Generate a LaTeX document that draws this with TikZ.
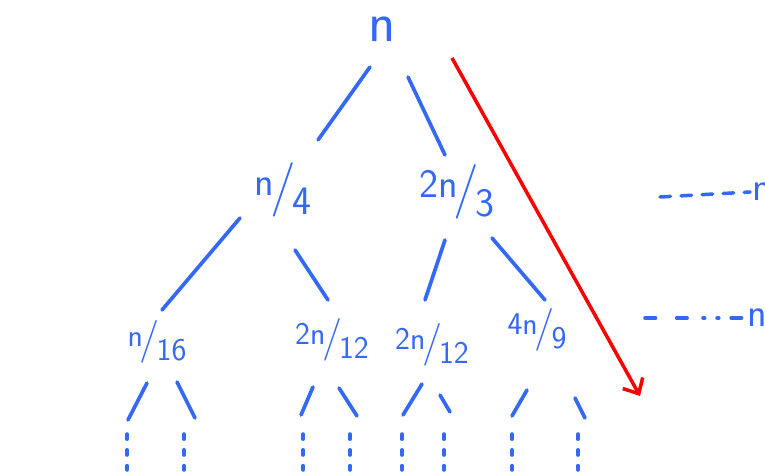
\documentclass[tikz,border=0pt]{standalone}
\usepackage{tikz}
\usetikzlibrary{arrows.meta, positioning}
\definecolor{inkblue}{RGB}{52,104,246}
\definecolor{inkred}{RGB}{250,0,0}
\tikzstyle{term} = [text=inkblue, font=\sffamily\fontsize{23}{25}\selectfont, inner sep=1pt]
\tikzstyle{leaf} = [term, font=\sffamily\fontsize{18}{20}\selectfont]
\tikzstyle{branch} = [draw=inkblue, line width=2.1pt, line cap=round]
\tikzstyle{dotline} = [draw=inkblue, line width=2pt, line cap=round, dash pattern=on 3pt off 6pt]
\tikzstyle{level} = [draw=inkblue, line width=2pt, line cap=round, dash pattern=on 6pt off 6pt]
\tikzstyle{arrow} = [draw=inkred, line width=2pt, -{Straight Barb[length=7pt,width=13pt]}]
\newcommand{\hfrac}[2]{\raisebox{.45ex}{#1}\kern-.1em\scalebox{1.35}{/}\kern-.1em\raisebox{-.6ex}{#2}}

\begin{document}
\begin{tikzpicture}[x=0.02cm, y=-0.02cm]
    \useasboundingbox (0,0) rectangle (765,472);
    % tree
    \node (root) [term, font=\sffamily\fontsize{32}{32}\selectfont, inner sep=0pt] at (382,29) {n};
    \node (q1) [term] at (283,190) {\hfrac{n}{4}};
    \node (q2) [term] at (457,192) {\hfrac{2n}{3}};
    \node (r1) [leaf] at (157,342) {\hfrac{n}{16}};
    \node (r2) [leaf] at (332,340) {\hfrac{2n}{12}};
    \node (r3) [leaf] at (432,345) {\hfrac{2n}{12}};
    \node (r4) [leaf] at (537,330) {\hfrac{4n}{9}};

    \draw [branch] ([shift={(-12,38)}]root.center) -- ([shift={(35,-50)}]q1.center);
    \draw [branch] ([shift={(26,48)}]root.center) -- ([shift={(-12,-37)}]q2.center);
    \draw [branch] ([shift={(-43,28)}]q1.center) -- ([shift={(5,-32)}]r1.center);
    \draw [branch] ([shift={(12,60)}]q1.center) -- ([shift={(-4,-40)}]r2.center);
    \draw [branch] ([shift={(-12,48)}]q2.center) -- ([shift={(-7,-45)}]r3.center);
    \draw [branch] ([shift={(35,46)}]q2.center) -- ([shift={(8,-30)}]r4.center);

    % last level, cut off
    \coordinate (l1) at (128,420);
    \coordinate (l2) at (195,418);
    \coordinate (l3) at (301,415);
    \coordinate (l4) at (357,416);
    \coordinate (l5) at (403,415);
    \coordinate (l6) at (450,412);
    \coordinate (l7) at (512,416);
    \coordinate (l8) at (585,418);
    \draw [branch] ([shift={(-10,41)}]r1.center) -- (l1);
    \draw [branch] ([shift={(20,40)}]r1.center) -- (l2);
    \draw [branch] ([shift={(-19,47)}]r2.center) -- (l3);
    \draw [branch] ([shift={(7,48)}]r2.center) -- (l4);
    \draw [branch] ([shift={(-10,39)}]r3.center) -- (l5);
    \draw [branch] ([shift={(8,50)}]r3.center) -- (l6);
    \draw [branch] ([shift={(-10,60)}]r4.center) -- (l7);
    \draw [branch] ([shift={(38,68)}]r4.center) -- (l8);

    \draw [dotline] (127,434) -- (127,470);
    \draw [dotline] (184,434) -- (184,470);
    \draw [dotline] (303,434) -- (303,470);
    \draw [dotline] (350,434) -- (350,470);
    \draw [dotline] (402,434) -- (402,470);
    \draw [dotline] (444,434) -- (444,470);
    \draw [dotline] (512,434) -- (512,470);
    \draw [dotline] (578,434) -- (578,470);

    % longest path
    \coordinate (ps) at (452,58);
    \coordinate (pe) at (640,396);
    \draw [arrow] (ps) -- (pe);

    % level sums
    \node (s1) [term] at (762,192) {n};
    \node (s2) [term] at (757,318) {n};
    \coordinate (d1) at (660,197);
    \coordinate (d2) at (645,318);
    \draw [level] (d1) -- (s1.west);
    \draw [level, dash pattern=on 6pt off 12pt on 6pt off 9pt on 1pt off 7pt on 1pt off 7pt] (d2) -- (s2.west);
\end{tikzpicture}
\end{document}
